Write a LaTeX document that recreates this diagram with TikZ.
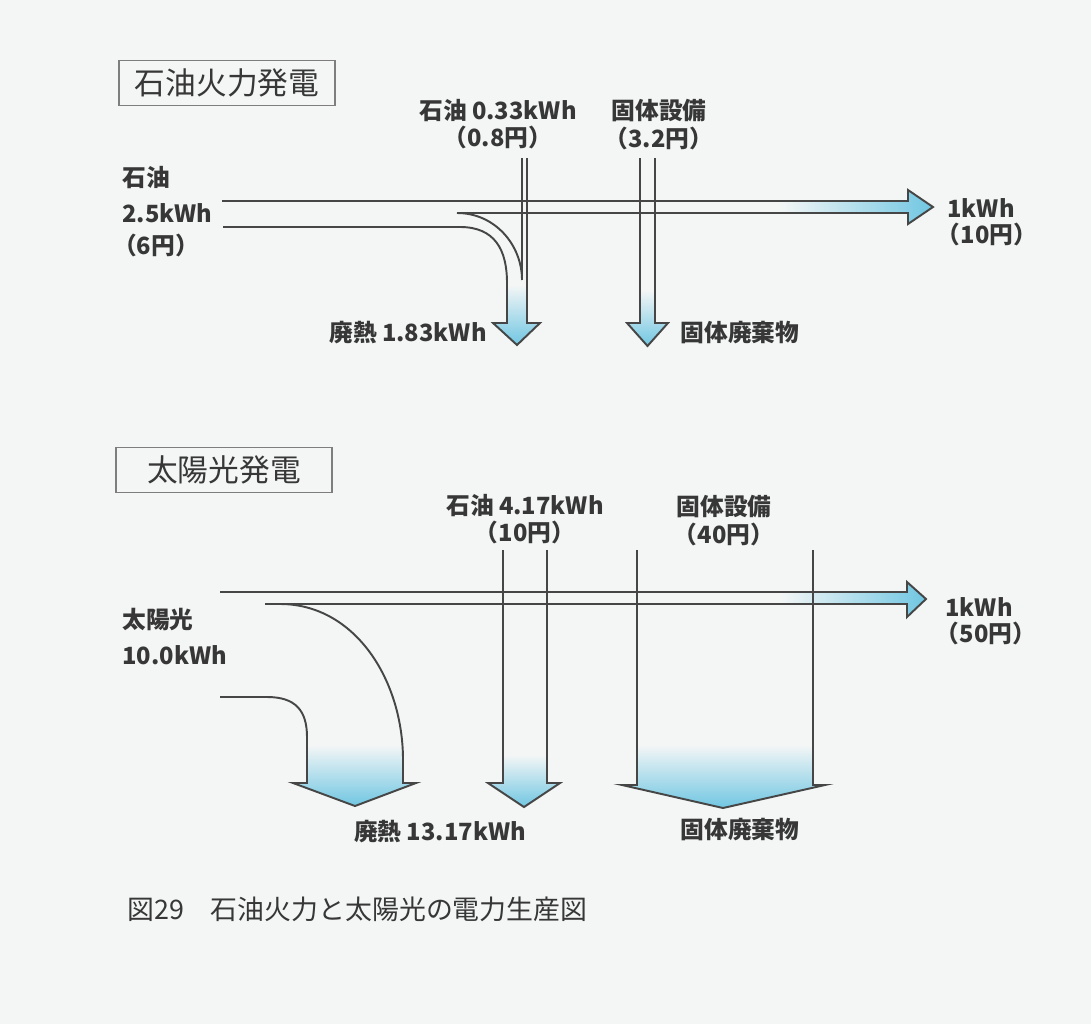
\documentclass[tikz,border=0pt]{standalone}
\usepackage{fontspec}
\setmainfont{Noto Sans CJK JP}
\usepackage{tikz}
\usetikzlibrary{positioning,calc}
\usepackage{xcolor}
\definecolor{PaperGray}{RGB}{244,246,246}
\definecolor{FlowLine}{RGB}{70,70,70}
\definecolor{FlowCyan}{RGB}{112,198,226}
\definecolor{LabelGray}{RGB}{55,55,55}

\begin{document}
\begin{tikzpicture}[x=0.02cm,y=-0.02cm,node distance=2pt,
  flow/.style={draw=FlowLine,line width=1.1pt,line join=miter},
  lbl/.style={font=\fontsize{13.5}{15}\selectfont\bfseries,text=LabelGray,inner sep=0pt},
  ttl/.style={draw=FlowLine!70,line width=0.6pt,minimum width=4.32cm,minimum height=0.91cm,
    font=\fontsize{17.5}{20}\selectfont,text=LabelGray}]
\fill[PaperGray] (0,0) rectangle (1091,1024);

\begin{scope}
\clip (780,201) -- (908,201) -- (908,190) -- (933,207) -- (908,224) -- (908,213) -- (780,213) -- cycle;
\shade[left color=PaperGray,right color=FlowCyan] (780,185) rectangle (933,230);
\end{scope}
\begin{scope}
\clip (507,285) -- (507,323) -- (493,323) -- (517,345) -- (540,323) -- (527,323) -- (527,285) -- cycle;
\shade[top color=PaperGray,bottom color=FlowCyan] (490,285) rectangle (542,345);
\end{scope}
\begin{scope}
\clip (640,290) -- (640,323) -- (627,323) -- (647.5,346) -- (668,323) -- (655,323) -- (655,290) -- cycle;
\shade[top color=PaperGray,bottom color=FlowCyan] (625,290) rectangle (670,346);
\end{scope}
\begin{scope}
\clip (780,592) -- (907,592) -- (907,582) -- (926,599) -- (907,617) -- (907,604) -- (780,604) -- cycle;
\shade[left color=PaperGray,right color=FlowCyan] (780,578) rectangle (926,620);
\end{scope}
\begin{scope}
\clip (307,745) -- (307,783) -- (293,783) -- (355,806) -- (416,783) -- (403,783) -- (403,745) -- cycle;
\shade[top color=PaperGray,bottom color=FlowCyan] (290,745) rectangle (418,806);
\end{scope}
\begin{scope}
\clip (503,755) -- (503,783) -- (488,783) -- (524,807) -- (560,783) -- (547,783) -- (547,755) -- cycle;
\shade[top color=PaperGray,bottom color=FlowCyan] (486,755) rectangle (562,807);
\end{scope}
\begin{scope}
\clip (637,745) -- (637,785) -- (622,785) -- (723,808) -- (825,785) -- (813,785) -- (813,745) -- cycle;
\shade[top color=PaperGray,bottom color=FlowCyan] (620,745) rectangle (827,808);
\end{scope}

\draw[flow] (222,201) -- (908,201) -- (908,190) -- (933,207) -- (908,224) -- (908,213) -- (457,213)
  .. controls (495,213) and (522,245) .. (522,280);
\draw[flow] (223,227) -- (460,227) .. controls (495,227) and (507,250) .. (507,283) -- (507,323)
  -- (493,323) -- (517,345) -- (540,323) -- (527,323) -- (527,158);
\draw[flow] (522,158) -- (522,280);
\draw[flow] (640,158) -- (640,323) -- (627,323) -- (647.5,346) -- (668,323) -- (655,323) -- (655,158);

\draw[flow] (220,592) -- (907,592) -- (907,582) -- (926,599) -- (907,617) -- (907,604) -- (265,604);
\draw[flow] (280,604) .. controls (355,604) and (403,680) .. (403,760) -- (403,783) -- (416,783)
  -- (355,806) -- (293,783) -- (307,783) -- (307,737) .. controls (307,710) and (295,697) .. (267,697) -- (220,697);
\draw[flow] (503,550) -- (503,783) -- (488,783) -- (524,807) -- (560,783) -- (547,783) -- (547,550);
\draw[flow] (637,550) -- (637,785) -- (622,785) -- (723,808) -- (825,785) -- (813,785) -- (813,550);

\node[ttl] (oilttl) at (227,83) {石油火力発電};
\node[lbl,anchor=west] (oilin) at (122,178) {石油};
\node[lbl,anchor=west] (oilkwh) at (122,213) {2.5kWh};
\node[lbl] (oilyen) at (156,245) {（6円）};
\node[lbl] (oiladd) at (498,111) {石油 0.33kWh};
\node[lbl,below=of oiladd] (oiladdyen) {（0.8円）};
\node[lbl] (oilfix) at (659,111) {固体設備};
\node[lbl,below=of oilfix] (oilfixyen) {（3.2円）};
\node[lbl] (oilout) at (981,208) {1kWh};
\node[lbl] (oilouty) at (987,234) {（10円）};
\node[lbl] (oilheat) at (408,333) {廃熱 1.83kWh};
\node[lbl] (oilwaste) at (740,333) {固体廃棄物};

\node[ttl] (solttl) at (224,470) {太陽光発電};
\node[lbl,anchor=west] (solin) at (122,620) {太陽光};
\node[lbl,anchor=west] (solkwh) at (122,655) {10.0kWh};
\node[lbl] (soladd) at (525,506) {石油 4.17kWh};
\node[lbl,below=of soladd] (soladdyen) {（10円）};
\node[lbl] (solfix) at (724,507) {固体設備};
\node[lbl,below=of solfix] (solfixyen) {（40円）};
\node[lbl] (solout) at (979,607) {1kWh};
\node[lbl] (solouty) at (986,633) {（50円）};
\node[lbl] (solheat) at (440,832) {廃熱 13.17kWh};
\node[lbl] (solwaste) at (740,830) {固体廃棄物};

\node[font=\fontsize{15.3}{18}\selectfont,text=LabelGray,inner sep=0pt,anchor=west] (cap) at (127,909)
  {図29　石油火力と太陽光の電力生産図};
\end{tikzpicture}
\end{document}
